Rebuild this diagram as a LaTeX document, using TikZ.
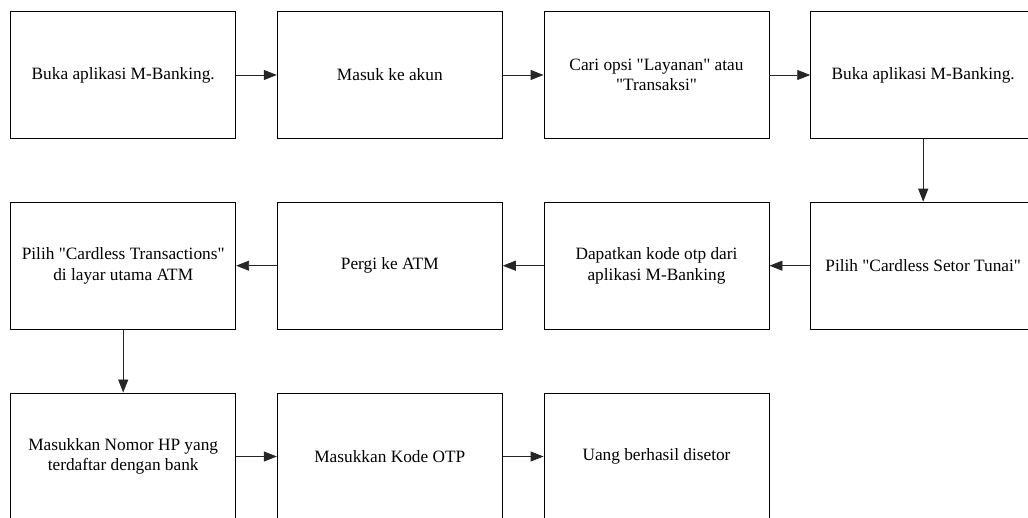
\documentclass[tikz,border=0pt]{standalone}
\usepackage{fontspec}
\setmainfont{Liberation Serif}[Ligatures=TeXOff]
\usetikzlibrary{arrows.meta,positioning}
\begin{document}
\begin{tikzpicture}[x=1pt, y=1pt, >={Triangle[length=13pt,width=10pt]},
    langkah/.style={draw, line width=0.9pt, minimum width=225pt, minimum height=127pt,
      align=center, inner sep=2pt, font=\fontsize{17.3}{20.5}\selectfont},
    panah/.style={->, line width=0.9pt, draw=black!85}]
      \useasboundingbox (0, 0) rectangle (1028, -518);

      \node[langkah] (a1) at (123.2, -75) {Buka aplikasi M-Banking.};
      \node[langkah] (a2) at (389.8, -75) {Masuk ke akun};
      \node[langkah] (a3) at (656.5, -75) {Cari opsi "Layanan" atau\\"Transaksi"};
      \node[langkah] (a4) at (923.2, -75) {Buka aplikasi M-Banking.};

      \node[langkah] (b4) at (923.2, -265.7) {Pilih "Cardless Setor Tunai"};
      \node[langkah] (b3) at (656.5, -265.7) {Dapatkan kode otp dari\\aplikasi M-Banking};
      \node[langkah] (b2) at (389.8, -265.7) {Pergi ke ATM};
      \node[langkah] (b1) at (123.2, -265.7) {Pilih "Cardless Transactions"\\di layar utama ATM};

      \node[langkah] (c1) at (123.2, -456.5) {Masukkan Nomor HP yang\\terdaftar dengan bank};
      \node[langkah] (c2) at (389.8, -456.5) {Masukkan Kode OTP};
      \node[langkah] (c3) at (656.5, -456.5) {Uang berhasil disetor};

      \draw[panah] (a1) -- (a2);
      \draw[panah] (a2) -- (a3);
      \draw[panah] (a3) -- (a4);
      \draw[panah] (a4) -- (b4);
      \draw[panah] (b4) -- (b3);
      \draw[panah] (b3) -- (b2);
      \draw[panah] (b2) -- (b1);
      \draw[panah] (b1) -- (c1);
      \draw[panah] (c1) -- (c2);
      \draw[panah] (c2) -- (c3);
    \end{tikzpicture}
\end{document}
